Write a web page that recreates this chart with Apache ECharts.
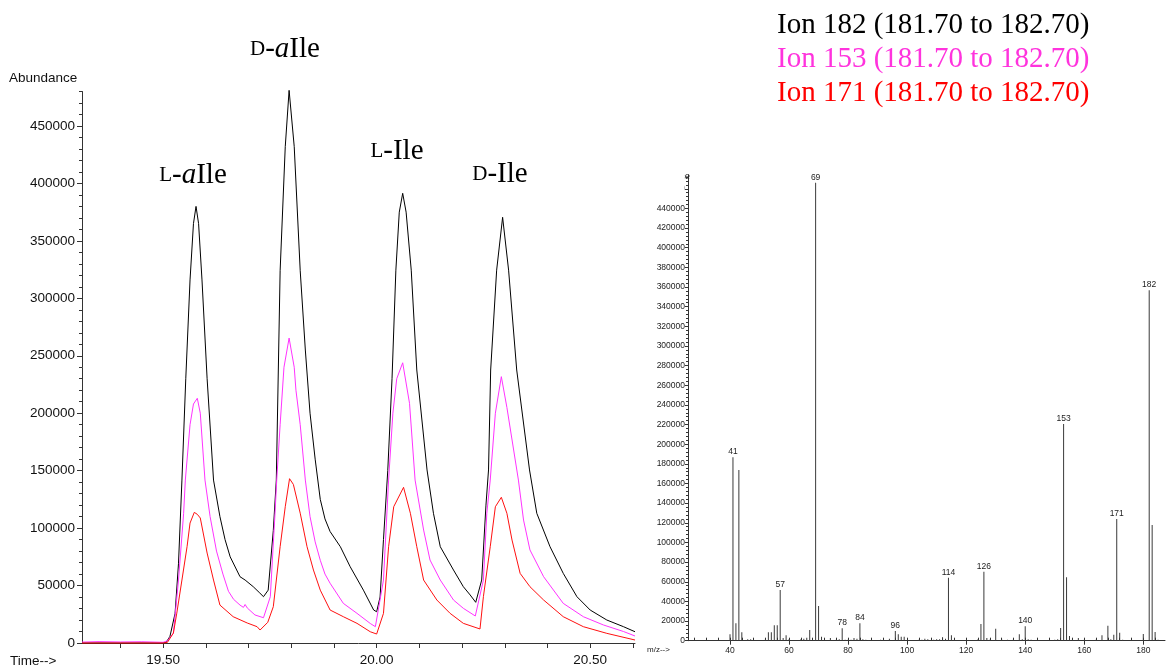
<!DOCTYPE html>
<html>
<head>
<meta charset="utf-8">
<script src="https://cdn.jsdelivr.net/npm/echarts@6/dist/echarts.min.js"></script>
<style>
  html, body { margin: 0; padding: 0; background: #fff; }
  #chart { width: 1166px; height: 667px; }
</style>
</head>
<body>
<div id="chart"></div>
<script>
// ---- Extracted-ion chromatograms (retention time in min, abundance) ----
const time182 = [19.31, 19.40, 19.50, 19.507, 19.516, 19.528, 19.536, 19.544, 19.553, 19.563, 19.571, 19.577, 19.583, 19.591, 19.603, 19.618, 19.633, 19.645, 19.657, 19.680, 19.692, 19.711, 19.725, 19.735, 19.746, 19.758, 19.765, 19.774, 19.786, 19.795, 19.807, 19.821, 19.833, 19.844, 19.856, 19.868, 19.879, 19.891, 19.915, 19.938, 19.969, 19.993, 20.000, 20.008, 20.016, 20.026, 20.036, 20.045, 20.053, 20.061, 20.069, 20.081, 20.094, 20.118, 20.133, 20.149, 20.180, 20.203, 20.219, 20.232, 20.246, 20.256, 20.262, 20.267, 20.281, 20.295, 20.309, 20.328, 20.358, 20.375, 20.406, 20.437, 20.469, 20.500, 20.539, 20.578, 20.605];
const ion182 = [0, 0, 0, 500, 5800, 25800, 69400, 141800, 230000, 316000, 365000, 380000, 365000, 316000, 230000, 141800, 110000, 90000, 75000, 57700, 54800, 49000, 44000, 40300, 46000, 98000, 141800, 324000, 432000, 481000, 432000, 324000, 255000, 200000, 160000, 125000, 108000, 97000, 83800, 66400, 46000, 28700, 27200, 40000, 90000, 150000, 230000, 324500, 375000, 391400, 375000, 324500, 237600, 150600, 112900, 83800, 63500, 49000, 41800, 35400, 54800, 120000, 150600, 237600, 324500, 370500, 324500, 237600, 150600, 112900, 83800, 60600, 40300, 28700, 20000, 14200, 9800];

const time153 = [19.31, 19.35, 19.40, 19.45, 19.50, 19.510, 19.524, 19.536, 19.548, 19.552, 19.563, 19.571, 19.580, 19.587, 19.598, 19.610, 19.625, 19.640, 19.653, 19.665, 19.680, 19.688, 19.692, 19.697, 19.715, 19.735, 19.751, 19.762, 19.766, 19.774, 19.783, 19.795, 19.807, 19.811, 19.821, 19.833, 19.844, 19.856, 19.868, 19.879, 19.891, 19.922, 19.954, 19.985, 19.997, 20.016, 20.028, 20.038, 20.047, 20.061, 20.077, 20.090, 20.110, 20.125, 20.149, 20.180, 20.203, 20.231, 20.250, 20.258, 20.266, 20.278, 20.292, 20.305, 20.332, 20.344, 20.359, 20.391, 20.437, 20.484, 20.531, 20.578, 20.605];
const ion153 = [800, 1200, 900, 1100, 600, 2000, 8400, 54800, 112900, 141800, 190000, 208000, 213000, 200000, 141800, 110000, 80000, 60000, 45000, 38000, 33000, 31000, 33500, 30500, 24400, 22000, 40300, 112900, 141800, 190000, 240000, 265400, 240000, 220000, 190000, 141800, 110000, 88000, 72000, 60000, 52000, 34500, 25800, 17000, 14200, 54800, 141800, 200000, 230000, 243900, 208600, 141800, 98300, 72200, 54800, 37400, 30200, 23500, 54800, 112900, 141800, 200000, 231800, 205000, 141800, 107000, 81000, 57700, 34500, 22900, 15700, 10000, 6100];

const time171 = [19.31, 19.50, 19.510, 19.524, 19.532, 19.544, 19.556, 19.563, 19.573, 19.580, 19.587, 19.603, 19.618, 19.633, 19.664, 19.697, 19.720, 19.727, 19.745, 19.758, 19.774, 19.786, 19.796, 19.805, 19.821, 19.837, 19.852, 19.868, 19.891, 19.922, 19.954, 19.985, 20.000, 20.016, 20.028, 20.040, 20.063, 20.079, 20.094, 20.110, 20.141, 20.172, 20.203, 20.242, 20.250, 20.266, 20.278, 20.292, 20.305, 20.317, 20.336, 20.359, 20.391, 20.437, 20.484, 20.539, 20.605];
const ion171 = [0, 0, 500, 8700, 26000, 54800, 83800, 104400, 113700, 112000, 108800, 78300, 54800, 33000, 22900, 17400, 14200, 11300, 18000, 31600, 83800, 118600, 143000, 138000, 113000, 83800, 63500, 46000, 28700, 22900, 17100, 9800, 7800, 25800, 83800, 118600, 135500, 112900, 83800, 54800, 37400, 25800, 17100, 12200, 40300, 83800, 118600, 126800, 112900, 89600, 60600, 49000, 37400, 22900, 14200, 8400, 2600];

// ---- Mass spectrum (m/z, abundance) ----
const mzValues = [40, 41, 42, 43, 44, 46, 47, 52, 53, 54, 55, 56, 57, 58, 59, 60, 64, 65, 66, 67, 69, 70, 71, 74, 76, 77, 78, 79, 80, 81, 82, 83, 84, 85, 86, 87, 91, 92, 94, 96, 97, 98, 99, 104, 105, 106, 107, 109, 110, 111, 112, 113, 114, 115, 116, 124, 125, 126, 127, 128, 130, 132, 134, 136, 138, 139, 140, 141, 142, 150, 151, 152, 153, 154, 155, 156, 158, 160, 164, 166, 168, 169, 170, 171, 172, 173, 180, 182, 183, 184, 185];
const mzAbundance = [6500, 186700, 17700, 173700, 8500, 1400, 1400, 2000, 8500, 8500, 15700, 15700, 51600, 2700, 5500, 1400, 1400, 2000, 3000, 10900, 466000, 35300, 4100, 2700, 1000, 1400, 12600, 1000, 1000, 1000, 2700, 2000, 17700, 1400, 1000, 700, 1000, 1500, 2000, 9900, 6500, 4100, 4100, 1000, 1000, 2000, 1500, 1000, 1400, 1400, 3400, 2000, 64100, 5500, 1000, 1400, 17000, 70200, 2700, 1000, 12200, 2000, 1000, 1400, 6500, 1400, 14600, 1400, 1000, 1000, 1400, 12900, 220600, 64500, 4800, 2000, 2700, 1000, 1000, 5500, 15300, 1400, 6100, 123900, 8100, 1000, 6800, 356600, 117800, 8800, 1000];
const labelledMz = [41, 57, 69, 78, 84, 96, 114, 126, 140, 153, 171, 182];

// ---- Axis ticks ----
const timeTicks = [];
for (let i = 194; i <= 206; i++) timeTicks.push(i / 10);
const timeLabels = [19.5, 20.0, 20.5];
const abundMajor = [];
for (let v = 0; v <= 450000; v += 50000) abundMajor.push(v);
const abundMinor = [];
for (let v = 0; v <= 480000; v += 10000) abundMinor.push(v);

const mzMajor = [];
for (let v = 40; v <= 180; v += 20) mzMajor.push(v);
const mzMinor = [];
for (let v = 28; v <= 186; v += 4) mzMinor.push(v);
const specMajor = [];
for (let v = 0; v <= 460000; v += 20000) specMajor.push(v);
const specMinor = [];
for (let v = 0; v <= 472000; v += 4000) specMinor.push(v);

const peakNames = ['{sc|L}{n|-}{it|a}{n|Ile}', '{sc|D}{n|-}{it|a}{n|Ile}', '{sc|L}{n|-Ile}', '{sc|D}{n|-Ile}'];
const ionLegend = ['Ion 182 (181.70 to 182.70)', 'Ion 153 (181.70 to 182.70)', 'Ion 171 (181.70 to 182.70)'];

// ---- Styling ----
const SANS = "'Liberation Sans', Arial, sans-serif";
const SERIF = "'Liberation Serif', 'Times New Roman', serif";
const SMALL = 8.5;
const AXIS = '#333';
const ionColors = ['#000000', '#ff33ff', '#ff1010'];
const legendColors = ['#000000', '#ff33dd', '#ff0000'];

const zip = (xs, ys) => xs.map((x, i) => [x, ys[i]]);

const chart = echarts.init(document.getElementById('chart'), null, { renderer: 'canvas' });

// small capitals for the L/D prefix, italic "a" for allo
const peakRich = {
  sc: { fontFamily: SERIF, fontSize: 21, color: '#000', verticalAlign: 'bottom', padding: [0, 0, 4, 0] },
  it: { fontFamily: SERIF, fontSize: 29, fontStyle: 'italic', color: '#000', verticalAlign: 'bottom' },
  n:  { fontFamily: SERIF, fontSize: 29, color: '#000', verticalAlign: 'bottom' }
};
const peakLabelPos = [[193, 175], [285, 49], [397, 151], [500, 174]];

const graphics = [
  { type: 'text', x: 9, y: 78, z: 10, style: { text: 'Abundance', font: '13.5px ' + SANS, fill: '#111', verticalAlign: 'middle' } },
  { type: 'text', x: 10, y: 661, z: 10, style: { text: 'Time-->', font: '13.5px ' + SANS, fill: '#111', verticalAlign: 'middle' } },
  { type: 'text', x: 647, y: 650, z: 10, style: { text: 'm/z-->', font: '8px ' + SANS, fill: '#222', verticalAlign: 'middle' } },
  { type: 'text', x: 690, y: 176, z: 10, style: { text: 'Abundance', font: '9.5px ' + SANS, fill: '#222', align: 'right', verticalAlign: 'middle' } },
  // white box behind the ion legend, hiding the top of the spectrum's axis labels
  { type: 'rect', z: 50, shape: { x: 636, y: 0, width: 48.5, height: 194 }, style: { fill: '#fff' } }
];
peakNames.forEach((t, i) => {
  graphics.push({ type: 'text', x: peakLabelPos[i][0], y: peakLabelPos[i][1], z: 60,
    style: { text: t, rich: peakRich, font: '29px ' + SERIF, fill: '#000', align: 'center', verticalAlign: 'middle' } });
});
ionLegend.forEach((t, i) => {
  graphics.push({ type: 'text', x: 777, y: 25 + i * 34, z: 60,
    style: { text: t, font: '29px ' + SERIF, fill: legendColors[i], verticalAlign: 'middle' } });
});

const tickAxis = (extra) => Object.assign({
  type: 'value',
  splitLine: { show: false },
  axisLine: { show: false },
  axisLabel: { show: false }
}, extra);

const option = {
  animation: false,
  backgroundColor: '#fff',
  grid: [
    { left: 82, top: 91.5, width: 553, height: 551.5 },
    { left: 688, top: 175, width: 477, height: 465.7 }
  ],
  xAxis: [
    {
      type: 'value', gridIndex: 0, min: 19.31, max: 20.605,
      splitLine: { show: false },
      axisLine: { lineStyle: { color: AXIS, width: 1 } },
      axisTick: { customValues: timeTicks, length: 5, lineStyle: { color: AXIS } },
      axisLabel: { customValues: timeLabels, formatter: v => v.toFixed(2), fontFamily: SANS, fontSize: 13.5, color: '#111', margin: 10 }
    },
    {
      type: 'value', gridIndex: 1, min: 25.77, max: 187.35,
      splitLine: { show: false },
      axisLine: { lineStyle: { color: AXIS, width: 1 } },
      axisTick: { customValues: mzMajor, length: 4, lineStyle: { color: AXIS } },
      axisLabel: { customValues: mzMajor, formatter: v => String(v), fontFamily: SANS, fontSize: SMALL, color: '#222', margin: 5 }
    },
    tickAxis({ gridIndex: 1, min: 25.77, max: 187.35, axisTick: { customValues: mzMinor, length: 3, lineStyle: { color: AXIS } } })
  ],
  yAxis: [
    {
      type: 'value', gridIndex: 0, min: 0, max: 480000, position: 'left',
      splitLine: { show: false },
      axisLine: { show: true, lineStyle: { color: AXIS, width: 1 } },
      axisTick: { show: true, customValues: abundMajor, length: 5, lineStyle: { color: AXIS } },
      axisLabel: { customValues: abundMajor, formatter: v => String(v), fontFamily: SANS, fontSize: 13.5, color: '#111', margin: 7 }
    },
    tickAxis({ gridIndex: 0, min: 0, max: 480000, position: 'left', axisTick: { show: true, customValues: abundMinor, length: 3, lineStyle: { color: AXIS } } }),
    {
      type: 'value', gridIndex: 1, min: 0, max: 474000, position: 'left',
      splitLine: { show: false },
      axisLine: { show: true, lineStyle: { color: AXIS, width: 1 } },
      axisTick: { show: true, customValues: specMajor, length: 3, lineStyle: { color: AXIS } },
      axisLabel: { customValues: specMajor, formatter: v => String(v), fontFamily: SANS, fontSize: SMALL, color: '#222', margin: 3 }
    },
    tickAxis({ gridIndex: 1, min: 0, max: 474000, position: 'left', axisTick: { show: true, customValues: specMinor, length: 2, lineStyle: { color: AXIS } } })
  ],
  series: [
    { name: 'Ion 182', type: 'line', xAxisIndex: 0, yAxisIndex: 0, data: zip(time182, ion182),
      showSymbol: false, symbol: 'none', clip: false, lineStyle: { width: 1, color: ionColors[0] }, z: 3 },
    { name: 'Ion 153', type: 'line', xAxisIndex: 0, yAxisIndex: 0, data: zip(time153, ion153),
      showSymbol: false, symbol: 'none', clip: false, lineStyle: { width: 1, color: ionColors[1] }, z: 4 },
    { name: 'Ion 171', type: 'line', xAxisIndex: 0, yAxisIndex: 0, data: zip(time171, ion171),
      showSymbol: false, symbol: 'none', clip: false, lineStyle: { width: 1, color: ionColors[2] }, z: 5 },
    {
      name: 'Spectrum', type: 'bar', xAxisIndex: 1, yAxisIndex: 2, barWidth: 1,
      itemStyle: { color: '#3a3a3a' },
      label: { position: 'top', distance: 1, formatter: p => String(p.value[0]), fontFamily: SANS, fontSize: SMALL, color: '#222' },
      data: mzValues.map((m, i) => ({ value: [m, mzAbundance[i]], label: { show: labelledMz.includes(m) } }))
    }
  ],
  graphic: graphics
};

chart.setOption(option);
</script>
</body>
</html>
